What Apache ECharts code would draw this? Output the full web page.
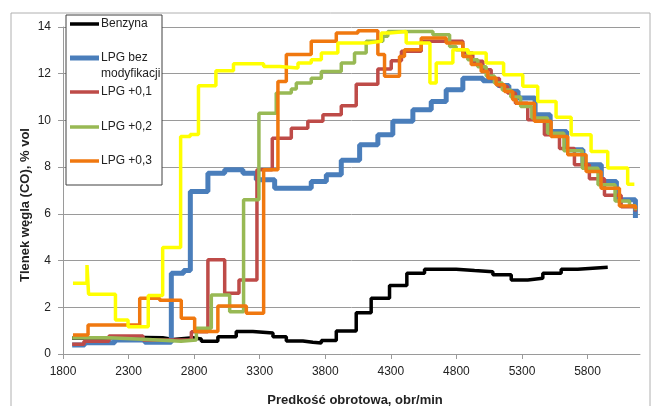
<!DOCTYPE html>
<html>
<head>
<meta charset="utf-8">
<script src="https://cdn.jsdelivr.net/npm/echarts@6/dist/echarts.min.js"></script>
<style>
  html, body { margin: 0; padding: 0; background: #fff; }
  #chart { width: 651px; height: 406px; }
</style>
</head>
<body>
<div id="chart"></div>
<script>
// [rpm, CO %vol] - step data
const benzyna = [[1869,0.68],[2100,0.72],[2300,0.7],[2560,0.62],[2640,0.7],[2790,0.64],[2855,0.55],[2981,0.74],[3121,0.96],[3248,0.9],[3401,0.74],[3503,0.56],[3629,0.5],[3705,0.47],[3770,0.58],[3884,0.99],[4036,1.77],[4150,2.39],[4290,2.93],[4422,3.46],[4557,3.63],[4798,3.57],[4938,3.52],[5078,3.39],[5218,3.17],[5344,3.24],[5459,3.46],[5599,3.63],[5725,3.71],[5954,3.73]];

const lpgBase = [[1870,0.39],[1965,0.48],[2194,0.6],[2423,0.5],[2626,3.46],[2720,3.58],[2771,6.96],[2905,7.74],[3033,7.89],[3172,7.74],[3274,7.46],[3414,7.1],[3693,7.39],[3808,7.67],[3922,8.3],[4062,8.96],[4201,9.39],[4315,9.96],[4468,10.46],[4608,10.81],[4722,11.31],[4849,11.81],[5002,11.7],[5116,11.5],[5200,11.25],[5270,10.96],[5400,10.24],[5515,9.53],[5640,8.74],[5765,8.1],[5905,7.39],[6020,6.6],[6165,5.82]];

const lpg01 = [[1870,0.42],[1960,0.55],[2150,0.77],[2410,0.6],[2779,0.95],[2905,4.03],[3033,2.6],[3142,3.17],[3279,7.89],[3396,9.24],[3541,9.67],[3667,9.96],[3782,10.24],[3922,10.63],[4036,11.55],[4201,12.2],[4303,12.55],[4381,12.96],[4532,13.39],[4849,12.89],[4925,12.53],[5002,12.17],[5065,11.8],[5128,11.45],[5190,11.17],[5250,10.74],[5344,10.03],[5471,9.39],[5586,8.8],[5700,8.1],[5814,7.5],[5929,6.8],[6056,6.3],[6165,6.1]];

const lpg02 = [[1870,0.7],[2150,0.62],[2450,0.55],[2700,0.6],[2817,1.1],[2931,2.53],[3071,1.81],[3177,6.6],[3294,10.31],[3426,11.17],[3541,11.35],[3579,11.6],[3693,11.81],[3770,12.1],[3922,12.46],[4023,12.89],[4112,13.39],[4239,13.6],[4277,13.81],[4621,13.67],[4748,13.17],[4798,13.03],[4887,12.6],[4963,12.3],[5027,11.9],[5090,11.6],[5150,11.3],[5215,11.0],[5290,10.6],[5375,10.1],[5495,9.45],[5620,8.7],[5760,7.95],[5880,7.25],[6010,6.55],[6120,6.35],[6165,6.15]];

const lpg03 = [[1876,0.81],[1991,1.24],[2385,2.39],[2537,2.3],[2702,1.53],[2804,0.96],[2981,2.06],[3198,1.74],[3330,7.89],[3439,11.67],[3503,12.82],[3693,13.39],[3884,13.74],[4049,13.84],[4201,12.82],[4252,11.89],[4366,12.74],[4404,13.03],[4532,13.53],[4722,13.31],[4849,12.74],[4913,12.39],[4989,12.1],[5040,11.82],[5103,11.53],[5167,11.24],[5230,10.89],[5256,10.74],[5395,9.96],[5522,9.31],[5649,8.53],[5789,7.81],[5903,7.1],[6043,6.34],[6165,6.2]];

// sixth series, no legend entry in the original
const lpgYellow = [[1876,3.03],[1983,3.81],[1995,2.56],[2200,1.46],[2296,1.17],[2450,2.5],[2560,4.56],[2697,9.31],[2770,9.4],[2833,11.49],[2966,12.13],[3100,12.43],[3330,12.31],[3452,12.24],[3592,12.46],[3693,12.6],[3770,12.89],[3896,13.31],[4125,13.39],[4227,13.74],[4290,13.81],[4417,13.31],[4598,11.6],[4646,12.46],[4773,13.03],[4887,12.89],[5027,12.46],[5160,11.96],[5306,11.46],[5420,10.81],[5560,10.14],[5675,9.39],[5827,8.67],[5954,7.96],[6106,7.27],[6157,7.27]];

const seriesNames = ["Benzyna", "LPG bez modyfikacji", "LPG +0,1", "LPG +0,2", "LPG +0,3", "LPG"];
const seriesData = [benzyna, lpgBase, lpg01, lpg02, lpg03, lpgYellow];
const colors = ["#000000", "#4A7EBB", "#BE4B48", "#98B954", "#F0780F", "#FFFF00"];
const widths = [3.5, 5, 3.5, 3.5, 3.5, 3.5];

const xMin = 1800, xMax = 6200, xStep = 500;
const yMin = 0, yMax = 14, yStep = 2;

const font = "'Liberation Sans', Arial, sans-serif";
const gray = "#9a9a9a";

const chart = echarts.init(document.getElementById("chart"));

// legend drawn by hand (one entry wraps onto two lines)
const legendRows = [
  { i: 0, y: 24, label: "Benzyna" },
  { i: 1, y: 58, label: "LPG bez\nmodyfikacji" },
  { i: 2, y: 92, label: "LPG +0,1" },
  { i: 3, y: 127, label: "LPG +0,2" },
  { i: 4, y: 161, label: "LPG +0,3" },
];
const legendItems = [
  { type: "rect", shape: { x: 66, y: 15, width: 96, height: 170 },
    style: { fill: "#fff", stroke: "#404040", lineWidth: 1 }, z: 10 },
];
legendRows.forEach((r) => {
  legendItems.push({
    type: "line", shape: { x1: 70, y1: r.y, x2: 99, y2: r.y },
    style: { stroke: colors[r.i], lineWidth: widths[r.i] }, z: 11,
  });
  legendItems.push({
    type: "text", x: 101, y: r.y - 8,
    style: { text: r.label, font: "12px " + font, fill: "#222", lineHeight: 16, textVerticalAlign: "top" },
    z: 11,
  });
});

chart.setOption({
  animation: false,
  grid: { left: 63, right: 11, top: 27, bottom: 52 },
  xAxis: {
    type: "value", min: xMin, max: xMax, interval: xStep,
    axisLine: { lineStyle: { color: gray } },
    axisTick: { show: true, length: 5, lineStyle: { color: gray } },
    axisLabel: { showMaxLabel: false, margin: 12, color: "#222", fontFamily: font, fontSize: 12,
      formatter: (v) => String(v) },
    splitLine: { show: false },
  },
  yAxis: {
    type: "value", min: yMin, max: yMax, interval: yStep,
    axisLine: { show: true, lineStyle: { color: gray } },
    axisTick: { show: true, length: 5, lineStyle: { color: gray } },
    axisLabel: { margin: 12, color: "#222", fontFamily: font, fontSize: 12 },
    splitLine: { lineStyle: { color: gray } },
  },
  series: seriesData.map((d, i) => ({
    name: seriesNames[i],
    type: "line",
    step: "end",
    data: d,
    showSymbol: false,
    symbol: "none",
    color: colors[i],
    lineStyle: { color: colors[i], width: widths[i] },
    z: 2 + i,
  })),
  graphic: [
    { type: "rect", shape: { x: 11, y: 13, width: 639, height: 420 },
      style: { fill: "none", stroke: "#b0b0b0", lineWidth: 1 }, silent: true },
    { type: "text", x: 25, y: 205, rotation: Math.PI / 2,
      style: { text: "Tlenek węgla (CO), % vol", font: "bold 13px " + font, fill: "#222",
        textAlign: "center", textVerticalAlign: "middle" } },
    { type: "text", x: 355, y: 400,
      style: { text: "Predkość obrotowa, obr/min", font: "bold 13px " + font, fill: "#222",
        textAlign: "center", textVerticalAlign: "middle" } },
    ...legendItems,
  ],
});
</script>
</body>
</html>
